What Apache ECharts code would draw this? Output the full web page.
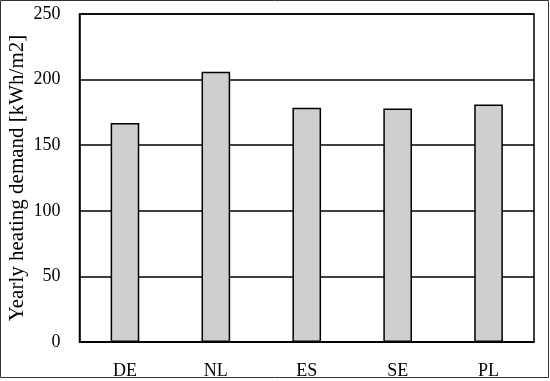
<!DOCTYPE html>
<html lang="en">
<head>
    <meta charset="UTF-8">
    <title>Yearly heating demand</title>
    <script src="https://cdn.jsdelivr.net/npm/echarts@6.0.0/dist/echarts.min.js"></script>
    <style>
        html, body { margin: 0; padding: 0; background: #fff; }
    </style>
</head>
<body>
<div id="main" style="width: 550px;height:381px;"></div>

<script type="text/javascript">
    // data
    var countries = ['DE', 'NL', 'ES', 'SE', 'PL'];
    var heatingDemand = [167, 206, 178.5, 178, 181];
    var yTicks = [0, 50, 100, 150, 200, 250];

    var font = '"Liberation Serif", "DejaVu Serif", serif';

    var myChart = echarts.init(document.getElementById('main'));

    var option = {
        animation: false,
        backgroundColor: '#fff',
        textStyle: { fontFamily: font },
        grid: {
            left: 79.5, right: 16, top: 14, bottom: 39,
            outerBoundsMode: 'none',
            containLabel: false,
            show: true, borderColor: '#000', borderWidth: 1.5
        },
        // thin frame round the whole picture
        graphic: [{
            type: 'rect',
            shape: { x: 0.5, y: 0.5, width: 548, height: 377 },
            style: { fill: 'none', stroke: '#333', lineWidth: 1 },
            silent: true
        }],
        xAxis: {
            type: 'category',
            data: countries,
            axisLine: { lineStyle: { color: '#000', width: 1.5 } },
            axisTick: { show: false },
            axisLabel: { color: '#000', fontSize: 18, fontFamily: font, margin: 20 }
        },
        yAxis: {
            type: 'value',
            min: yTicks[0],
            max: yTicks[yTicks.length - 1],
            interval: yTicks[1] - yTicks[0],
            name: 'Yearly heating demand [kWh/m2]',
            nameLocation: 'middle',
            nameGap: 52,
            nameMoveOverlap: false,
            nameTextStyle: { color: '#000', fontSize: 21, fontFamily: font },
            axisLine: { show: true, lineStyle: { color: '#000', width: 1.5 } },
            axisTick: { show: false },
            axisLabel: { color: '#000', fontSize: 18, fontFamily: font, margin: 19 },
            splitLine: { lineStyle: { color: '#000', width: 1.5 } }
        },
        series: [{
            type: 'bar',
            data: heatingDemand,
            barWidth: '31.5%',
            itemStyle: { color: '#cfcfcf', borderColor: '#000', borderWidth: 1.5 }
        }]
    };

    myChart.setOption(option);
</script>

</body>
</html>
